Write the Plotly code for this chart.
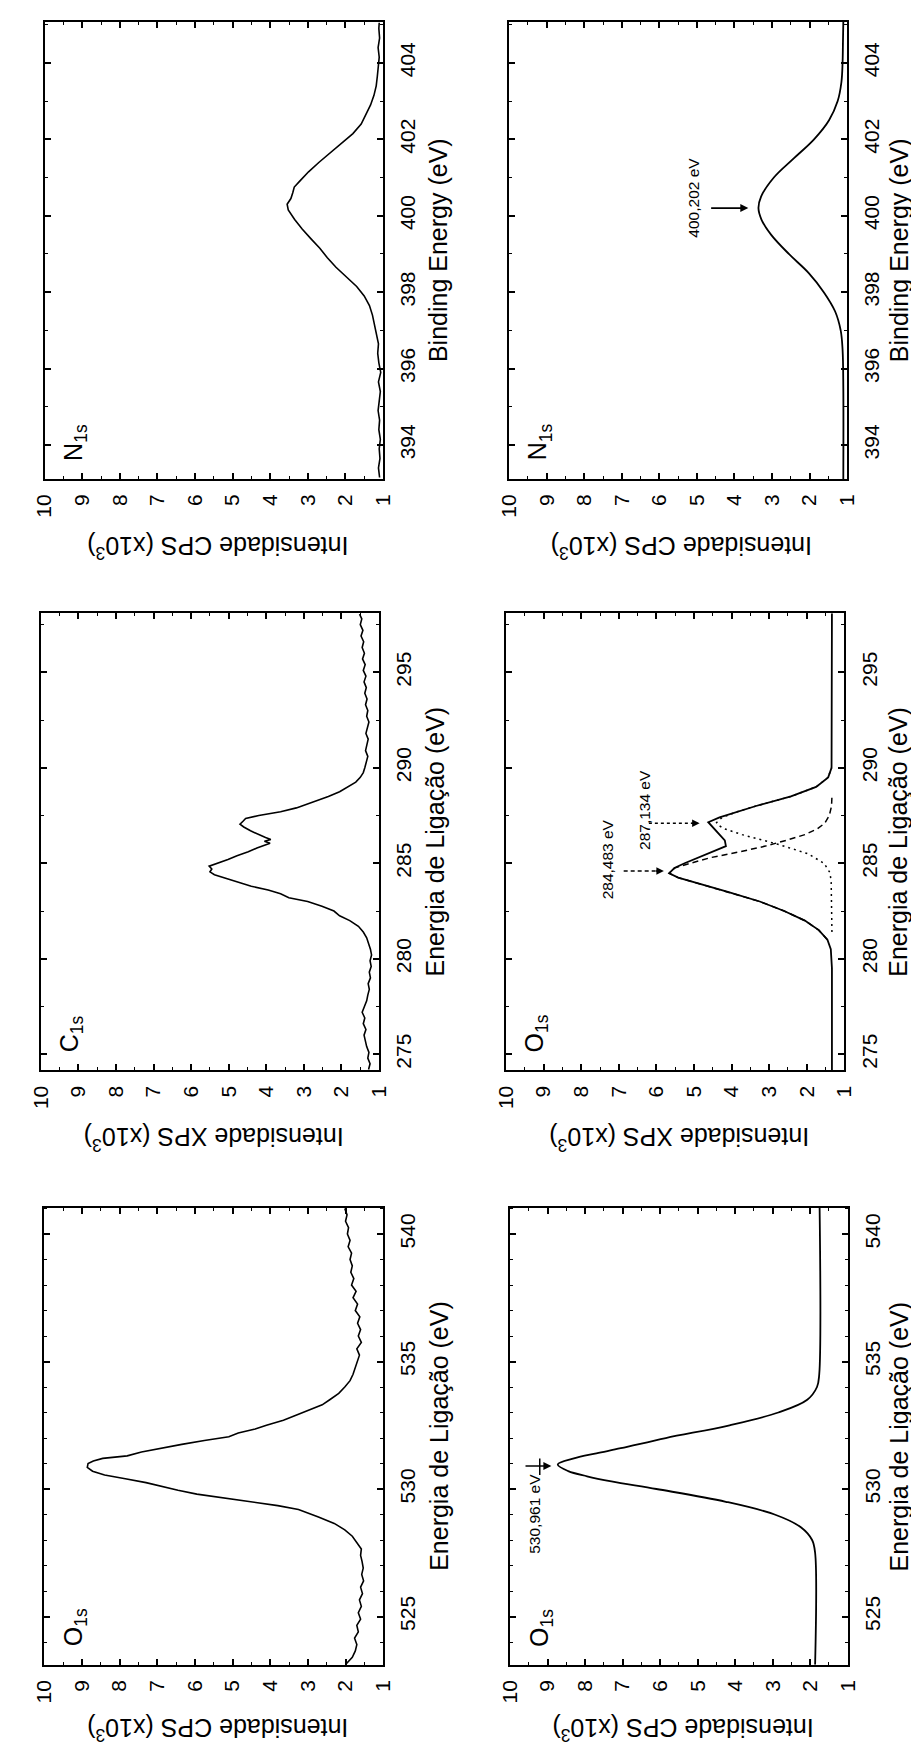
import plotly.graph_objects as go

W, H = 919, 1742
FONT = "Liberation Sans, Arial, sans-serif"

# ---------------- data (energy in eV, intensity in 10^3 counts) ----------------
n1s_raw_energy = [393.15, 393.4, 393.65, 393.9, 394.15, 394.4, 394.65, 394.9, 395.15, 395.4,
                  395.65, 395.9, 396.15, 396.4, 396.65, 396.9, 397.15, 397.4, 397.65, 397.9,
                  398.15, 398.4, 398.65, 398.9, 399.15, 399.4, 399.65, 399.9, 400.15, 400.3,
                  400.45, 400.6, 400.75, 400.9, 401.15, 401.4, 401.65, 401.9, 402.15, 402.4,
                  402.65, 402.9, 403.15, 403.4, 403.65, 403.9, 404.15, 404.4, 404.65, 404.9, 405.05]
n1s_raw_counts = [1.09, 1.12, 1.08, 1.10, 1.07, 1.11, 1.09, 1.13, 1.10, 1.07,
                  1.12, 1.06, 1.11, 1.14, 1.12, 1.17, 1.22, 1.28, 1.36, 1.50,
                  1.70, 1.98, 2.25, 2.48, 2.68, 2.92, 3.15, 3.35, 3.52, 3.55,
                  3.45, 3.40, 3.36, 3.22, 2.98, 2.70, 2.40, 2.08, 1.80, 1.58,
                  1.45, 1.33, 1.24, 1.18, 1.15, 1.12, 1.10, 1.13, 1.09, 1.11, 1.10]

n1s_fit_energy = [393.11, 395.5, 396.5, 397.0, 397.5, 398.0, 398.5, 399.0, 399.5, 399.9, 400.2,
                  400.5, 401.0, 401.5, 402.0, 402.5, 403.0, 403.5, 404.0, 404.5, 405.07]
n1s_fit_counts = [1.10, 1.10, 1.12, 1.17, 1.32, 1.62, 2.02, 2.55, 3.02, 3.28, 3.36,
                  3.29, 2.95, 2.42, 1.88, 1.48, 1.25, 1.15, 1.12, 1.11, 1.10]

c1s_raw_energy = [274.2, 274.5, 274.8, 275.1, 275.4, 275.7, 276.0, 276.3, 276.6, 276.9,
                  277.2, 277.5, 277.8, 278.1, 278.4, 278.7, 279.0, 279.3, 279.6, 279.9,
                  280.2, 280.5, 280.8,
                  281.1, 281.4, 281.7, 282.0, 282.25, 282.5, 282.75, 283.0, 283.2, 283.4,
                  283.6, 283.8, 284.0, 284.2, 284.4, 284.55, 284.7, 284.85, 285.0, 285.2,
                  285.4, 285.6, 285.8, 285.95, 286.05, 286.15, 286.25, 286.35, 286.5, 286.7,
                  286.9, 287.05, 287.2, 287.35, 287.5, 287.7, 287.9, 288.1, 288.3, 288.5,
                  288.75, 289.0, 289.25, 289.5, 289.75, 290.0,
                  290.3, 290.6, 290.9, 291.2, 291.5, 291.8, 292.1, 292.4, 292.7, 293.0,
                  293.3, 293.6, 293.9, 294.2, 294.5, 294.8, 295.1, 295.4, 295.7, 296.0,
                  296.3, 296.6, 296.9, 297.2, 297.5, 297.8, 298.05]
c1s_raw_counts = [1.28, 1.24, 1.30, 1.27, 1.33, 1.36, 1.40, 1.35, 1.42, 1.38,
                  1.45, 1.39, 1.33, 1.30, 1.26, 1.29, 1.23, 1.26, 1.21, 1.24,
                  1.20, 1.23, 1.27,
                  1.33, 1.42, 1.55, 1.78, 2.05, 2.20, 2.52, 2.90, 3.40, 3.62,
                  3.95, 4.40, 4.75, 5.05, 5.38, 5.50, 5.45, 5.52, 5.30, 5.02,
                  4.78, 4.48, 4.25, 4.02, 3.90, 4.05, 3.88, 4.02, 4.20, 4.42,
                  4.60, 4.70, 4.62, 4.55, 4.20, 3.62, 3.20, 2.90, 2.62, 2.35,
                  2.05, 1.82, 1.62, 1.50, 1.42, 1.38,
                  1.34, 1.30, 1.36, 1.32, 1.29, 1.35, 1.31, 1.27, 1.33, 1.30,
                  1.36, 1.32, 1.38, 1.34, 1.40, 1.35, 1.42, 1.37, 1.44, 1.39,
                  1.45, 1.41, 1.48, 1.43, 1.50, 1.46, 1.52]

c1s_fit_energy = [274.16, 279.5, 280.5, 281.0, 281.5, 282.0, 282.5, 283.0, 283.5, 284.0,
                  284.25, 284.48, 284.75, 285.0, 285.3, 285.6, 285.9, 286.2, 286.5, 286.8,
                  287.0, 287.15, 287.4, 287.7, 288.0, 288.5, 289.0, 289.5, 290.0, 298.09]
c1s_fit_counts = [1.33, 1.33, 1.36, 1.45, 1.68, 2.05, 2.60, 3.25, 4.10, 5.00,
                  5.42, 5.66, 5.52, 5.25, 4.90, 4.50, 4.15, 4.18, 4.32, 4.48,
                  4.56, 4.62, 4.32, 3.85, 3.35, 2.42, 1.75, 1.43, 1.34, 1.33]

c1s_comp1_energy = [281.0, 281.5, 282.0, 282.5, 283.0, 283.5, 284.0, 284.25, 284.48, 284.75,
                    285.0, 285.3, 285.6, 285.9, 286.2, 286.5, 286.8, 287.1, 287.5, 288.0, 288.5]
c1s_comp1_counts = [1.45, 1.68, 2.05, 2.60, 3.25, 4.10, 5.00, 5.42, 5.66, 5.52,
                    5.10, 4.55, 3.78, 3.10, 2.55, 2.05, 1.72, 1.52, 1.40, 1.34, 1.33]

c1s_comp2_energy = [281.4, 283.0, 284.0, 284.5, 285.0, 285.5, 286.0, 286.5, 286.8, 287.0,
                    287.13, 287.4, 287.7, 288.0, 288.5, 289.0, 289.5, 290.0]
c1s_comp2_counts = [1.33, 1.33, 1.35, 1.38, 1.54, 1.97, 2.77, 3.72, 4.18, 4.36,
                    4.40, 4.25, 3.85, 3.35, 2.42, 1.75, 1.43, 1.34]

o1s_raw_energy = [523.15, 523.4, 523.65, 523.9, 524.15, 524.4, 524.65, 524.9, 525.15, 525.4,
                  525.65, 525.9, 526.15, 526.4, 526.65, 526.9, 527.15, 527.4, 527.65, 527.9,
                  528.15, 528.4, 528.65, 528.9, 529.1, 529.2, 529.35, 529.5, 529.65, 529.8,
                  529.95, 530.1, 530.25, 530.4, 530.55, 530.7, 530.85, 531.0, 531.1, 531.2,
                  531.3, 531.45, 531.6, 531.75, 531.9, 532.05, 532.2, 532.35, 532.5, 532.7,
                  532.9, 533.1, 533.3, 533.5, 533.75, 534.0, 534.25, 534.5, 534.75, 535.0,
                  535.25, 535.5, 535.75, 536.0, 536.25, 536.5, 536.75, 537.0, 537.25, 537.5,
                  537.75, 538.0, 538.25, 538.5, 538.75, 539.0, 539.25, 539.5, 539.75, 540.0,
                  540.25, 540.5, 540.75, 541.0]
o1s_raw_counts = [1.98, 1.82, 1.74, 1.70, 1.76, 1.66, 1.70, 1.60, 1.66, 1.58,
                  1.63, 1.55, 1.60, 1.52, 1.57, 1.53, 1.56, 1.60, 1.58, 1.70,
                  1.82, 2.02, 2.30, 2.72, 3.05, 3.25, 3.80, 4.55, 5.30, 5.95,
                  6.45, 6.90, 7.30, 7.85, 8.40, 8.72, 8.86, 8.84, 8.70, 8.45,
                  7.80, 7.42, 6.90, 6.35, 5.75, 5.10, 4.85, 4.40, 4.10, 3.65,
                  3.30, 2.95, 2.62, 2.42, 2.18, 2.02, 1.88, 1.80, 1.74, 1.70,
                  1.63, 1.70, 1.58, 1.66, 1.60, 1.68, 1.62, 1.74, 1.68, 1.80,
                  1.72, 1.84, 1.78, 1.86, 1.82, 1.88, 1.84, 1.93, 1.88, 1.95,
                  1.92, 2.00, 1.96, 2.02]

o1s_fit_energy = [523.11, 527.5, 528.0, 528.5, 529.0, 529.5, 530.0, 530.3, 530.5, 530.7, 530.96,
                  531.2, 531.4, 531.6, 532.0, 532.5, 533.0, 533.5, 534.0, 534.5, 541.04]
o1s_fit_counts = [1.87, 1.87, 1.95, 2.25, 2.95, 4.25, 6.10, 7.30, 7.95, 8.45, 8.73,
                  8.30, 7.70, 7.05, 5.85, 4.15, 2.85, 2.08, 1.82, 1.76, 1.75]

peak_labels = ["400,202 eV", "284,483 eV", "287,134 eV", "530,961 eV"]
intensity_ticks = [1, 2, 3, 4, 5, 6, 7, 8, 9, 10]

# ---------------- panel layout (pixels in the 919x1742 page) ----------------
panels = [
    dict(box=(25.3, 372.3, 14.0, 471.0), erange=(393.11, 405.07), dt=2, mdt=1, tx=57, ty=68,
         etitle="Binding Energy (eV)", ititle="Intensidade CPS (x10<sup>3</sup>)", label="N<sub>1s</sub>"),
    dict(box=(501.7, 848.3, 14.0, 471.0), erange=(393.11, 405.07), dt=2, mdt=1, tx=54, ty=68,
         etitle="Binding Energy (eV)", ititle="Intensidade CPS (x10<sup>3</sup>)", label="N<sub>1s</sub>"),
    dict(box=(21.3, 368.3, 605.3, 1062.3), erange=(274.16, 298.09), dt=5, mdt=2.5, tx=57, ty=68,
         etitle="Energia de Ligação (eV)", ititle="Intensidade XPS (x10<sup>3</sup>)", label="C<sub>1s</sub>"),
    dict(box=(498.5, 845.5, 605.3, 1062.3), erange=(274.16, 298.09), dt=5, mdt=2.5, tx=55, ty=68,
         etitle="Energia de Ligação (eV)", ititle="Intensidade XPS (x10<sup>3</sup>)", label="O<sub>1s</sub>"),
    dict(box=(25.0, 372.5, 1199.5, 1656.7), erange=(523.11, 541.04), dt=5, mdt=1, tx=57, ty=65,
         etitle="Energia de Ligação (eV)", ititle="Intensidade CPS (x10<sup>3</sup>)", label="O<sub>1s</sub>"),
    dict(box=(502.7, 849.0, 1199.5, 1656.7), erange=(523.11, 541.04), dt=5, mdt=1, tx=53, ty=65,
         etitle="Energia de Ligação (eV)", ititle="Intensidade CPS (x10<sup>3</sup>)", label="O<sub>1s</sub>"),
]

fig = go.Figure()


def add_curve(i, energy, counts, dash="solid", width=1.8, shape="linear"):
    fig.add_trace(go.Scatter(x=counts, y=energy, mode="lines",
                             xaxis=f"x{i}", yaxis=f"y{i}",
                             line=dict(color="black", width=width, dash=dash, shape=shape),
                             hoverinfo="skip", showlegend=False))


add_curve(1, n1s_raw_energy, n1s_raw_counts, width=1.6)
add_curve(2, n1s_fit_energy, n1s_fit_counts, width=1.8, shape="spline")
add_curve(3, c1s_raw_energy, c1s_raw_counts, width=1.6)
add_curve(4, c1s_comp1_energy, c1s_comp1_counts, dash="6px,4px", width=1.5)
add_curve(4, c1s_comp2_energy, c1s_comp2_counts, dash="2px,4px", width=1.5)
add_curve(4, c1s_fit_energy, c1s_fit_counts, width=1.8)
add_curve(5, o1s_raw_energy, o1s_raw_counts, width=1.6)
add_curve(6, o1s_fit_energy, o1s_fit_counts, width=1.8, shape="spline")

layout = dict(width=W, height=H, margin=dict(l=0, r=0, t=0, b=0),
              paper_bgcolor="white", plot_bgcolor="white", showlegend=False,
              font=dict(family=FONT, color="black"))
annotations = []
shapes = []

for k, p in enumerate(panels, start=1):
    l, r, t, b = p["box"]
    common = dict(showline=True, linecolor="black", linewidth=2, mirror="ticks",
                  ticks="inside", ticklen=6, tickwidth=1.5, tickcolor="black",
                  showgrid=False, zeroline=False, tickangle=-90,
                  tickfont=dict(family=FONT, size=21, color="black"),
                  ticklabelstandoff=5)
    layout[f"xaxis{k}"] = dict(common, domain=[l / W, r / W], range=[10.0001, 0.9999],
                               anchor=f"y{k}", side="bottom",
                               tickvals=intensity_ticks, ticktext=[str(v) for v in intensity_ticks],
                               minor=dict(dtick=0.5, tick0=0, ticks="inside", ticklen=3,
                                          tickwidth=1.2, tickcolor="black"))
    layout[f"yaxis{k}"] = dict(common, domain=[1 - b / H, 1 - t / H], range=list(p["erange"]),
                               anchor=f"x{k}", side="right", dtick=p["dt"], tick0=0,
                               minor=dict(dtick=p["mdt"], tick0=0, ticks="inside", ticklen=3,
                                          tickwidth=1.2, tickcolor="black"))
    # energy axis title (right side, reading upward)
    annotations.append(dict(xref="paper", yref="paper", x=(r + p["tx"]) / W, y=1 - (t + b) / 2 / H,
                            text=p["etitle"], textangle=-90, showarrow=False,
                            xanchor="center", yanchor="middle",
                            font=dict(family=FONT, size=25, color="black")))
    # intensity axis title (below the panel, upside down)
    annotations.append(dict(xref="paper", yref="paper", x=((l + r) / 2 + 4) / W, y=1 - (b + p["ty"]) / H,
                            text=p["ititle"], textangle=180, showarrow=False,
                            xanchor="center", yanchor="middle",
                            font=dict(family=FONT, size=25, color="black")))
    # core level label
    annotations.append(dict(xref="paper", yref="paper", x=(l + 31) / W, y=1 - (b - 37) / H,
                            text=p["label"], textangle=-90, showarrow=False,
                            xanchor="center", yanchor="middle",
                            font=dict(family=FONT, size=25, color="black")))


def peak_text(i, txt, inten, energy):
    annotations.append(dict(xref=f"x{i}", yref=f"y{i}", x=inten, y=energy, text=txt,
                            textangle=-90, showarrow=False, xanchor="center", yanchor="middle",
                            font=dict(family=FONT, size=15.5, color="black")))


def arrow(i, i_from, i_to, energy, dash=None):
    if dash is None:
        annotations.append(dict(xref=f"x{i}", yref=f"y{i}", x=i_to, y=energy,
                                axref=f"x{i}", ayref=f"y{i}", ax=i_from, ay=energy,
                                text="", showarrow=True, arrowhead=2, arrowsize=1,
                                arrowwidth=1.6, arrowcolor="black"))
    else:
        shapes.append(dict(type="line", xref=f"x{i}", yref=f"y{i}", x0=i_from, x1=i_to + 0.2,
                           y0=energy, y1=energy, line=dict(color="black", width=1.5, dash=dash)))
        annotations.append(dict(xref=f"x{i}", yref=f"y{i}", x=i_to, y=energy,
                                axref=f"x{i}", ayref=f"y{i}", ax=i_to + 0.25, ay=energy,
                                text="", showarrow=True, arrowhead=2, arrowsize=1,
                                arrowwidth=1.5, arrowcolor="black"))


# N1s fit
peak_text(2, peak_labels[0], 5.08, 400.47)
arrow(2, 4.66, 3.63, 400.2)
# C1s fit
peak_text(4, peak_labels[1], 7.29, 285.2)
arrow(4, 6.87, 5.80, 284.6, dash="4px,3px")
peak_text(4, peak_labels[2], 6.33, 287.79)
arrow(4, 6.2, 4.85, 287.1, dash="dot")
# O1s fit
peak_text(6, peak_labels[3], 9.37, 529.02)
arrow(6, 9.63, 8.90, 530.9)
shapes.append(dict(type="line", xref="x6", yref="y6", x0=9.21, x1=9.21, y0=530.55, y1=531.2,
                   line=dict(color="black", width=1.5)))

layout["annotations"] = annotations
layout["shapes"] = shapes
fig.update_layout(**layout)

fig.write_html("out.html")
